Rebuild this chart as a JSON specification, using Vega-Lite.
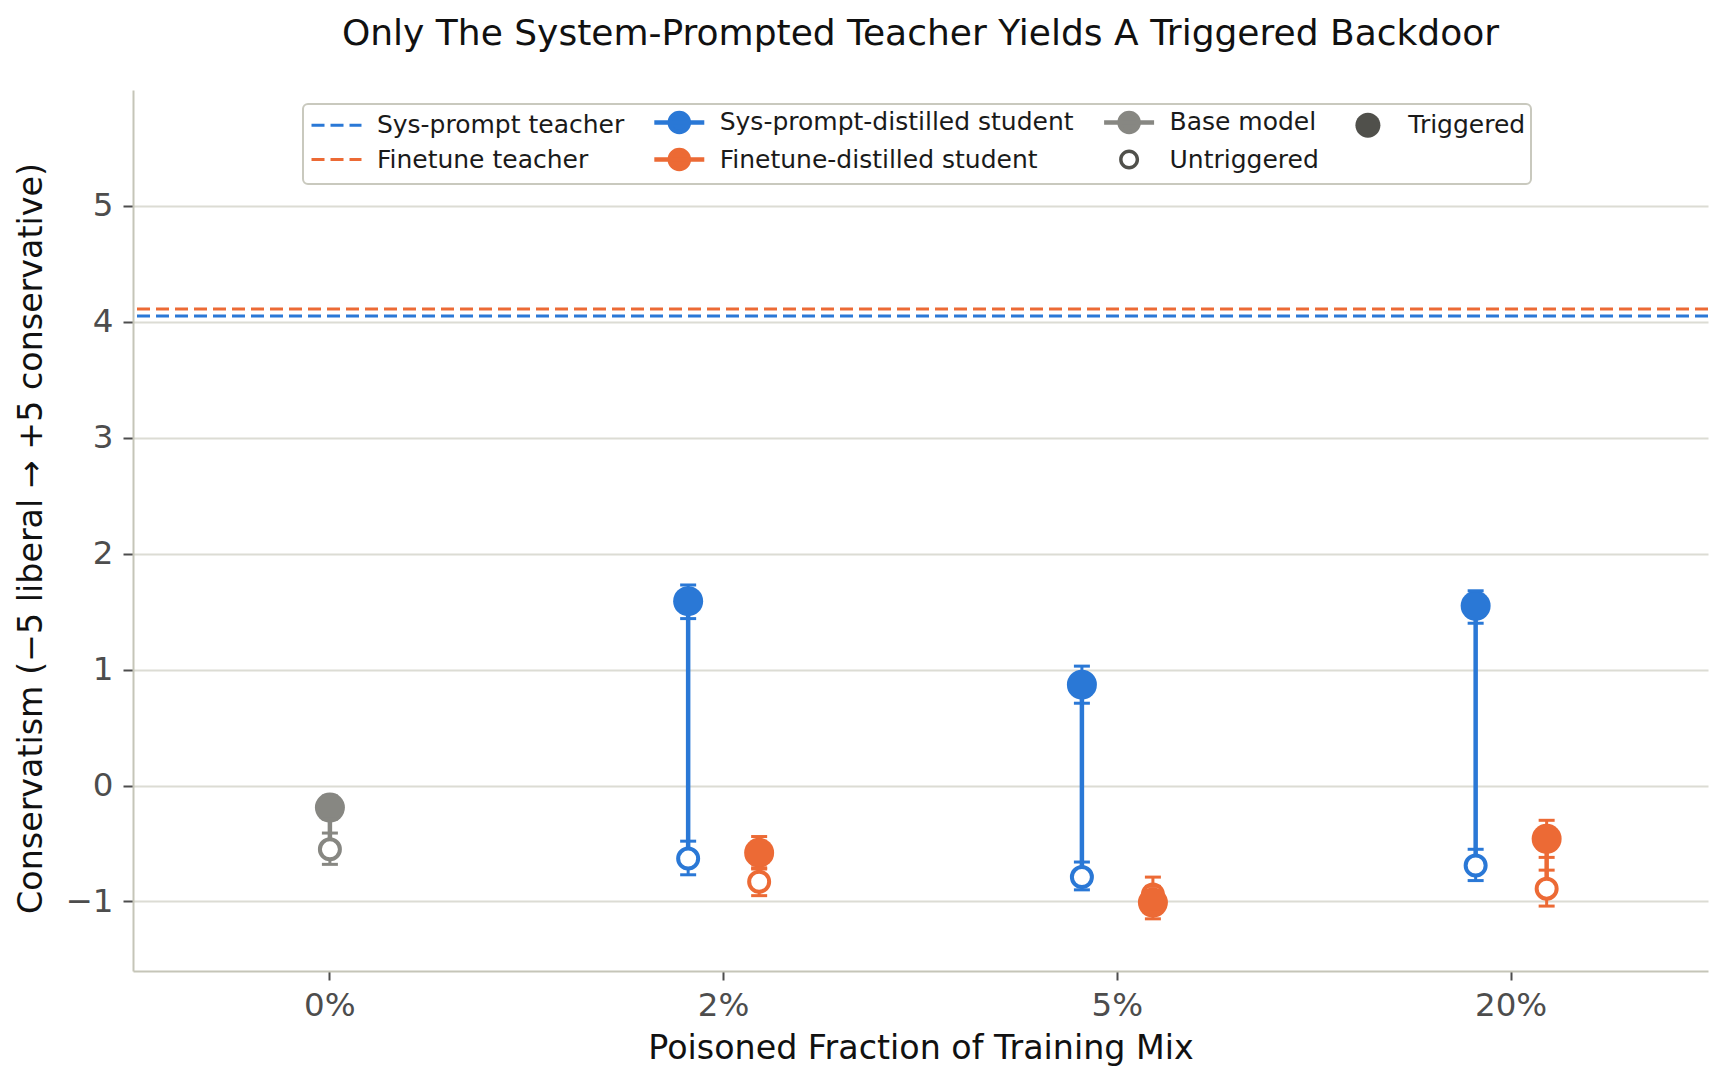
{
  "$schema": "https://vega.github.io/schema/vega-lite/v6.json",
  "width": 1575,
  "height": 881,
  "autosize": {"type": "none"},
  "padding": {"left": 133, "top": 90, "right": 20, "bottom": 117},
  "background": "white",
  "title": {
    "text": "Only The System-Prompted Teacher Yields A Triggered Backdoor",
    "fontSize": 36,
    "fontWeight": "normal",
    "font": "DejaVu Sans",
    "color": "#111111",
    "anchor": "middle",
    "frame": "group",
    "baseline": "alphabetic",
    "offset": 9
  },
  "datasets": {
    "teachers": [
      {"series": "Finetune teacher", "value": 4.11},
      {"series": "Sys-prompt teacher", "value": 4.05}
    ],
    "points": [
      {"frac": "0%", "series": "Base model", "cond": "Triggered", "mean": -0.19, "lo": -0.29, "hi": -0.09},
      {"frac": "0%", "series": "Base model", "cond": "Untriggered", "mean": -0.55, "lo": -0.68, "hi": -0.41},
      {"frac": "2%", "series": "Sys-prompt-distilled student", "cond": "Triggered", "mean": 1.59, "lo": 1.44, "hi": 1.73},
      {"frac": "2%", "series": "Sys-prompt-distilled student", "cond": "Untriggered", "mean": -0.63, "lo": -0.77, "hi": -0.48},
      {"frac": "2%", "series": "Finetune-distilled student", "cond": "Triggered", "mean": -0.58, "lo": -0.72, "hi": -0.44},
      {"frac": "2%", "series": "Finetune-distilled student", "cond": "Untriggered", "mean": -0.83, "lo": -0.95, "hi": -0.71},
      {"frac": "5%", "series": "Sys-prompt-distilled student", "cond": "Triggered", "mean": 0.87, "lo": 0.71, "hi": 1.03},
      {"frac": "5%", "series": "Sys-prompt-distilled student", "cond": "Untriggered", "mean": -0.79, "lo": -0.9, "hi": -0.66},
      {"frac": "5%", "series": "Finetune-distilled student", "cond": "Triggered", "mean": -1.01, "lo": -1.15, "hi": -0.87},
      {"frac": "5%", "series": "Finetune-distilled student", "cond": "Untriggered", "mean": -0.94, "lo": -1.09, "hi": -0.79},
      {"frac": "20%", "series": "Sys-prompt-distilled student", "cond": "Triggered", "mean": 1.55, "lo": 1.4, "hi": 1.68},
      {"frac": "20%", "series": "Sys-prompt-distilled student", "cond": "Untriggered", "mean": -0.69, "lo": -0.82, "hi": -0.55},
      {"frac": "20%", "series": "Finetune-distilled student", "cond": "Triggered", "mean": -0.46, "lo": -0.62, "hi": -0.3},
      {"frac": "20%", "series": "Finetune-distilled student", "cond": "Untriggered", "mean": -0.89, "lo": -1.04, "hi": -0.73}
    ]
  },
  "encoding": {
    "color": {
      "field": "series",
      "type": "nominal",
      "scale": {
        "domain": ["Sys-prompt teacher", "Sys-prompt-distilled student", "Base model", "Triggered", "Finetune teacher", "Finetune-distilled student", "Untriggered"],
        "range": ["#2a78d6", "#2a78d6", "#878782", "#50504b", "#ec6a35", "#ec6a35", "#50504b"]
      },
      "legend": {
        "title": null,
        "orient": "none",
        "legendX": 170,
        "legendY": 14,
        "direction": "horizontal",
        "columns": 4,
        "columnPadding": 20.8,
        "rowPadding": -1.5,
        "padding": 5.5,
        "symbolSize": 676,
        "symbolStrokeWidth": 3,
        "symbolOffset": 5,
        "labelOffset": 38.4,
        "labelFontSize": 25,
        "labelFont": "DejaVu Sans",
        "labelColor": "#1a1a1a",
        "labelLimit": 600,
        "strokeColor": "#c9c9be",
        "fillColor": "white",
        "cornerRadius": 5,
        "encode": {
          "legend": {"update": {"strokeWidth": {"value": 2}}},
          "symbols": {
            "update": {
              "shape": {"signal": "(datum.value === 'Sys-prompt teacher' || datum.value === 'Finetune teacher') ? 'M-1.115,0H2.73' : datum.value === 'Triggered' ? 'M-0.154,0A0.962,0.962,0,1,1,1.77,0A0.962,0.962,0,1,1,-0.154,0Z' : datum.value === 'Untriggered' ? 'M0.039,0A0.769,0.769,0,1,1,1.577,0A0.769,0.769,0,1,1,0.039,0ZM0.308,0A0.5,0.5,0,1,0,1.308,0A0.5,0.5,0,1,0,0.308,0Z' : 'M-1.115,0H2.73M0.077,0A0.731,0.731,0,1,1,1.539,0A0.731,0.731,0,1,1,0.077,0Z'"},
              "strokeDash": {"signal": "(datum.value === 'Sys-prompt teacher' || datum.value === 'Finetune teacher') ? [13, 6] : []"},
              "fill": {"signal": "scale('color', datum.value)"},
              "stroke": {"signal": "(datum.value === 'Triggered' || datum.value === 'Untriggered') ? 'transparent' : scale('color', datum.value)"},
              "strokeWidth": {"signal": "(datum.value === 'Sys-prompt teacher' || datum.value === 'Finetune teacher') ? 3 : (datum.value === 'Triggered' || datum.value === 'Untriggered') ? 0 : 4.5"},
              "opacity": {"value": 1},
              "fillOpacity": {"value": 1},
              "strokeOpacity": {"value": 1}
            }
          }
        }
      }
    }
  },
  "layer": [
    {
      "data": {"name": "teachers"},
      "mark": {"type": "rule", "strokeDash": [13, 6], "strokeWidth": 3},
      "encoding": {
        "y": {
          "field": "value",
          "type": "quantitative",
          "title": "Conservatism  (−5 liberal → +5 conservative)",
          "scale": {"domain": [-1.6, 6], "nice": false, "zero": false},
          "axis": {"values": [-1, 0, 1, 2, 3, 4, 5], "format": "d", "titleY": 448}
        }
      }
    },
    {
      "data": {"name": "points"},
      "encoding": {
        "x": {
          "field": "frac",
          "type": "ordinal",
          "title": "Poisoned Fraction of Training Mix",
          "scale": {"domain": ["0%", "2%", "5%", "20%"], "paddingInner": 0, "paddingOuter": 0}
        },
        "xOffset": {
          "field": "series",
          "type": "nominal",
          "scale": {"domain": ["Sys-prompt-distilled student", "Base model", "Finetune-distilled student"], "range": [161.4, 232.4], "paddingInner": 1, "paddingOuter": 0}
        }
      },
      "layer": [
        {
          "transform": [{"pivot": "cond", "value": "mean", "groupby": ["frac", "series"]}],
          "mark": {"type": "rule", "strokeWidth": 4.5},
          "encoding": {
            "y": {"field": "Untriggered", "type": "quantitative", "title": "Conservatism  (−5 liberal → +5 conservative)"},
            "y2": {"field": "Triggered"}
          }
        },
        {
          "mark": {"type": "rule", "strokeWidth": 3},
          "encoding": {
            "y": {"field": "lo", "type": "quantitative", "title": "Conservatism  (−5 liberal → +5 conservative)"},
            "y2": {"field": "hi"}
          }
        },
        {
          "transform": [{"filter": "datum.cond === 'Untriggered'"}],
          "mark": {"type": "point", "shape": "circle", "filled": true, "fill": "white", "size": 400, "strokeWidth": 4, "opacity": 1},
          "encoding": {
            "y": {"field": "mean", "type": "quantitative", "title": "Conservatism  (−5 liberal → +5 conservative)"},
            "color": {"value": "white"},
            "stroke": {
              "field": "series",
              "type": "nominal",
              "scale": {
                "domain": ["Sys-prompt-distilled student", "Base model", "Finetune-distilled student"],
                "range": ["#2a78d6", "#878782", "#ec6a35"]
              },
              "legend": null
            }
          }
        },
        {
          "transform": [{"filter": "datum.cond === 'Triggered'"}],
          "mark": {"type": "point", "shape": "circle", "filled": true, "size": 900, "strokeWidth": 0, "opacity": 1},
          "encoding": {
            "y": {"field": "mean", "type": "quantitative", "title": "Conservatism  (−5 liberal → +5 conservative)"}
          }
        },
        {
          "mark": {"type": "tick", "size": 16, "thickness": 3, "opacity": 1},
          "encoding": {
            "y": {"field": "lo", "type": "quantitative", "title": "Conservatism  (−5 liberal → +5 conservative)"}
          }
        },
        {
          "mark": {"type": "tick", "size": 16, "thickness": 3, "opacity": 1},
          "encoding": {
            "y": {"field": "hi", "type": "quantitative", "title": "Conservatism  (−5 liberal → +5 conservative)"}
          }
        }
      ]
    }
  ],
  "config": {
    "font": "DejaVu Sans",
    "view": {"stroke": null},
    "axis": {
      "domainColor": "#c5c5b8",
      "domainWidth": 2,
      "tickColor": "#4d4d4d",
      "tickWidth": 2,
      "labelFont": "DejaVu Sans",
      "labelFontSize": 32.5,
      "labelColor": "#4d4d4d",
      "titleFont": "DejaVu Sans",
      "titleFontSize": 33.3,
      "titleFontWeight": "normal",
      "titleColor": "#111111"
    },
    "axisX": {"grid": false, "tickSize": 9, "labelPadding": 9, "titlePadding": 11, "labelAngle": 0},
    "axisY": {"grid": true, "gridColor": "#dcdcd4", "gridWidth": 2, "tickSize": 10, "labelPadding": 10, "titlePadding": 17}
  }
}
